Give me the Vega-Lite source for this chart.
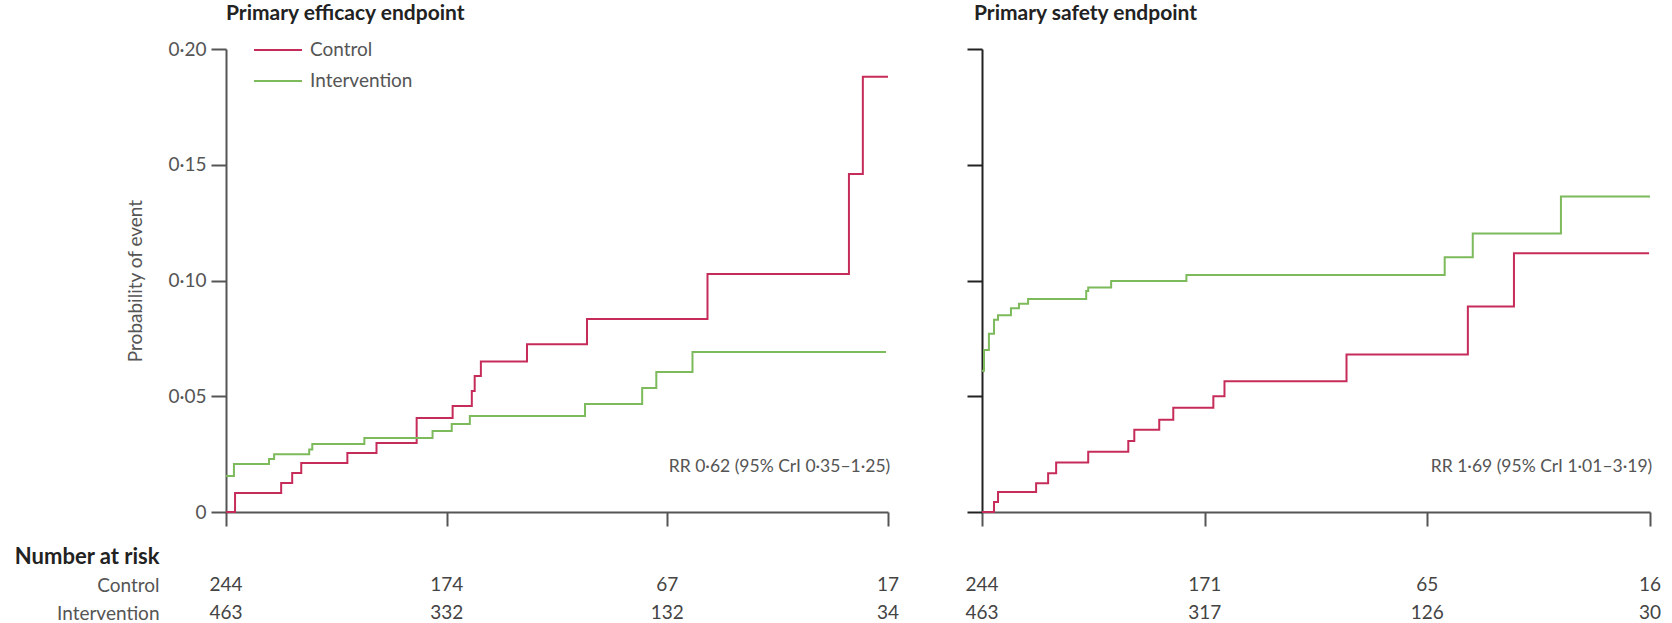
{
  "$schema": "https://vega.github.io/schema/vega-lite/v6.json",
  "padding": {"left": 13, "right": 5, "top": 3, "bottom": 0},
  "background": "white",
  "config": {
    "font": "Lato, sans-serif",
    "view": {"stroke": null},
    "axis": {"grid": false, "domainColor": "#555", "domainWidth": 2, "tickColor": "#555", "tickWidth": 2, "labelColor": "#555", "labelFontSize": 19, "titleFontSize": 19, "titleColor": "#555", "titleFontWeight": "normal"}
  },
  "datasets": {
    "eff": [
      {"t": 0, "p": 0, "group": "Control"},
      {"t": 0.041, "p": 0.0082, "group": "Control"},
      {"t": 0.25, "p": 0.0125, "group": "Control"},
      {"t": 0.30, "p": 0.0168, "group": "Control"},
      {"t": 0.341, "p": 0.0212, "group": "Control"},
      {"t": 0.55, "p": 0.0255, "group": "Control"},
      {"t": 0.682, "p": 0.0298, "group": "Control"},
      {"t": 0.864, "p": 0.0406, "group": "Control"},
      {"t": 1.027, "p": 0.0458, "group": "Control"},
      {"t": 1.114, "p": 0.0523, "group": "Control"},
      {"t": 1.127, "p": 0.0587, "group": "Control"},
      {"t": 1.155, "p": 0.065, "group": "Control"},
      {"t": 1.364, "p": 0.0725, "group": "Control"},
      {"t": 1.636, "p": 0.0834, "group": "Control"},
      {"t": 2.182, "p": 0.1028, "group": "Control"},
      {"t": 2.823, "p": 0.146, "group": "Control"},
      {"t": 2.886, "p": 0.188, "group": "Control"},
      {"t": 3.0, "p": 0.188, "group": "Control"},
      {"t": 0, "p": 0.0155, "group": "Intervention"},
      {"t": 0.036, "p": 0.0207, "group": "Intervention"},
      {"t": 0.195, "p": 0.0229, "group": "Intervention"},
      {"t": 0.218, "p": 0.025, "group": "Intervention"},
      {"t": 0.377, "p": 0.027, "group": "Intervention"},
      {"t": 0.391, "p": 0.0294, "group": "Intervention"},
      {"t": 0.627, "p": 0.032, "group": "Intervention"},
      {"t": 0.936, "p": 0.035, "group": "Intervention"},
      {"t": 1.023, "p": 0.038, "group": "Intervention"},
      {"t": 1.105, "p": 0.0415, "group": "Intervention"},
      {"t": 1.627, "p": 0.0467, "group": "Intervention"},
      {"t": 1.886, "p": 0.0536, "group": "Intervention"},
      {"t": 1.95, "p": 0.0605, "group": "Intervention"},
      {"t": 2.114, "p": 0.0691, "group": "Intervention"},
      {"t": 2.991, "p": 0.0691, "group": "Intervention"}
    ],
    "saf": [
      {"t": 0, "p": 0, "group": "Control"},
      {"t": 0.054, "p": 0.0043, "group": "Control"},
      {"t": 0.072, "p": 0.0086, "group": "Control"},
      {"t": 0.243, "p": 0.0124, "group": "Control"},
      {"t": 0.297, "p": 0.0167, "group": "Control"},
      {"t": 0.333, "p": 0.0214, "group": "Control"},
      {"t": 0.477, "p": 0.026, "group": "Control"},
      {"t": 0.657, "p": 0.0307, "group": "Control"},
      {"t": 0.684, "p": 0.0355, "group": "Control"},
      {"t": 0.796, "p": 0.0398, "group": "Control"},
      {"t": 0.859, "p": 0.045, "group": "Control"},
      {"t": 1.039, "p": 0.050, "group": "Control"},
      {"t": 1.089, "p": 0.0565, "group": "Control"},
      {"t": 1.637, "p": 0.068, "group": "Control"},
      {"t": 2.182, "p": 0.0888, "group": "Control"},
      {"t": 2.389, "p": 0.1118, "group": "Control"},
      {"t": 2.996, "p": 0.1118, "group": "Control"},
      {"t": 0, "p": 0.061, "group": "Intervention"},
      {"t": 0.009, "p": 0.070, "group": "Intervention"},
      {"t": 0.031, "p": 0.077, "group": "Intervention"},
      {"t": 0.054, "p": 0.083, "group": "Intervention"},
      {"t": 0.072, "p": 0.085, "group": "Intervention"},
      {"t": 0.130, "p": 0.088, "group": "Intervention"},
      {"t": 0.166, "p": 0.090, "group": "Intervention"},
      {"t": 0.207, "p": 0.092, "group": "Intervention"},
      {"t": 0.468, "p": 0.0955, "group": "Intervention"},
      {"t": 0.477, "p": 0.097, "group": "Intervention"},
      {"t": 0.580, "p": 0.0998, "group": "Intervention"},
      {"t": 0.918, "p": 0.1024, "group": "Intervention"},
      {"t": 2.078, "p": 0.110, "group": "Intervention"},
      {"t": 2.204, "p": 0.1203, "group": "Intervention"},
      {"t": 2.600, "p": 0.1363, "group": "Intervention"},
      {"t": 3.0, "p": 0.1363, "group": "Intervention"}
    ],
    "effNote": [{"t": 3.01, "p": 0.0194, "label": "RR 0·62 (95% CrI 0·35–1·25)"}],
    "safNote": [{"t": 3.01, "p": 0.0194, "label": "RR 1·69 (95% CrI 1·01–3·19)"}],
    "effRisk": [
      {"t": 0, "group": "Control", "n": 244},
      {"t": 1, "group": "Control", "n": 174},
      {"t": 2, "group": "Control", "n": 67},
      {"t": 3, "group": "Control", "n": 17},
      {"t": 0, "group": "Intervention", "n": 463},
      {"t": 1, "group": "Intervention", "n": 332},
      {"t": 2, "group": "Intervention", "n": 132},
      {"t": 3, "group": "Intervention", "n": 34}
    ],
    "safRisk": [
      {"t": 0, "group": "Control", "n": 244},
      {"t": 1, "group": "Control", "n": 171},
      {"t": 2, "group": "Control", "n": 65},
      {"t": 3, "group": "Control", "n": 16},
      {"t": 0, "group": "Intervention", "n": 463},
      {"t": 1, "group": "Intervention", "n": 317},
      {"t": 2, "group": "Intervention", "n": 126},
      {"t": 3, "group": "Intervention", "n": 30}
    ]
  },
  "columns": 2,
  "spacing": {"row": 18, "column": 65},
  "concat": [
    {
      "width": 662,
      "height": 463,
      "title": {"text": "Primary efficacy endpoint", "anchor": "start", "frame": "group", "fontSize": 21, "fontWeight": "bold", "color": "#222", "offset": 16},
      "layer": [
        {
          "data": {"name": "eff"},
          "mark": {"type": "line", "interpolate": "step-after", "strokeWidth": 2},
          "encoding": {
            "x": {"field": "t", "type": "quantitative", "scale": {"domain": [0, 3], "nice": false}, "axis": {"values": [0, 1, 2, 3], "labels": false, "title": null, "tickSize": 14}},
            "y": {"field": "p", "type": "quantitative", "scale": {"domain": [0, 0.2], "nice": false}, "axis": {"values": [0, 0.05, 0.1, 0.15, 0.2], "labelExpr": "datum.value == 0 ? '0' : replace(format(datum.value, '.2f'), '.', '·')", "title": "Probability of event", "tickSize": 15, "labelPadding": 5, "titlePadding": 22}},
            "color": {"field": "group", "type": "nominal", "scale": {"domain": ["Control", "Intervention"], "range": ["#c62c5a", "#7dba5c"]}, "legend": {"title": null, "orient": "none", "legendX": 27, "legendY": -12, "symbolType": "M-1,0H3", "symbolSize": 576, "symbolStrokeWidth": 2, "labelFontSize": 19, "labelColor": "#555", "labelOffset": 31, "rowPadding": 8}}
          }
        },
        {
          "data": {"name": "effNote"},
          "mark": {"type": "text", "align": "right", "baseline": "middle", "fontSize": 17.5, "color": "#555"},
          "encoding": {
            "x": {"field": "t", "type": "quantitative"},
            "y": {"field": "p", "type": "quantitative"},
            "text": {"field": "label"}
          }
        }
      ]
    },
    {
      "width": 668,
      "height": 463,
      "title": {"text": "Primary safety endpoint", "anchor": "start", "frame": "group", "dx": -8, "fontSize": 21, "fontWeight": "bold", "color": "#222", "offset": 24},
      "layer": [
        {
          "data": {"name": "saf"},
          "mark": {"type": "line", "interpolate": "step-after", "strokeWidth": 2},
          "encoding": {
            "x": {"field": "t", "type": "quantitative", "scale": {"domain": [0, 3], "nice": false}, "axis": {"values": [0, 1, 2, 3], "labels": false, "title": null, "tickSize": 14}},
            "y": {"field": "p", "type": "quantitative", "scale": {"domain": [0, 0.2], "nice": false}, "axis": {"values": [0, 0.05, 0.1, 0.15, 0.2], "labels": false, "title": null, "tickSize": 15, "domainColor": "#222", "tickColor": "#222"}},
            "color": {"field": "group", "type": "nominal", "scale": {"domain": ["Control", "Intervention"], "range": ["#c62c5a", "#7dba5c"]}, "legend": null}
          }
        },
        {
          "data": {"name": "safNote"},
          "mark": {"type": "text", "align": "right", "baseline": "middle", "fontSize": 17.5, "color": "#555"},
          "encoding": {
            "x": {"field": "t", "type": "quantitative"},
            "y": {"field": "p", "type": "quantitative"},
            "text": {"field": "label"}
          }
        }
      ]
    },
    {
      "width": 662,
      "height": 74,
      "data": {"name": "effRisk"},
      "mark": {"type": "text", "fontSize": 19, "color": "#444", "baseline": "middle"},
      "encoding": {
        "x": {"field": "t", "type": "quantitative", "scale": {"domain": [0, 3], "nice": false}, "axis": null},
        "y": {"field": "group", "type": "nominal", "scale": {"type": "point", "domain": ["Number at risk", "Control", "Intervention"], "padding": 0.3}, "axis": {"title": null, "domain": false, "ticks": false, "labelPadding": 67, "labelFontSize": {"condition": {"test": "datum.value === 'Number at risk'", "value": 22}, "value": 19}, "labelColor": {"condition": {"test": "datum.value === 'Number at risk'", "value": "#222"}, "value": "#555"}, "labelFontWeight": {"condition": {"test": "datum.value === 'Number at risk'", "value": "bold"}, "value": "normal"}}},
        "text": {"field": "n", "type": "nominal"}
      }
    },
    {
      "width": 668,
      "height": 74,
      "data": {"name": "safRisk"},
      "mark": {"type": "text", "fontSize": 19, "color": "#444", "baseline": "middle"},
      "encoding": {
        "x": {"field": "t", "type": "quantitative", "scale": {"domain": [0, 3], "nice": false}, "axis": null},
        "y": {"field": "group", "type": "nominal", "scale": {"type": "point", "domain": ["Number at risk", "Control", "Intervention"], "padding": 0.3}, "axis": null},
        "text": {"field": "n", "type": "nominal"}
      }
    }
  ]
}
